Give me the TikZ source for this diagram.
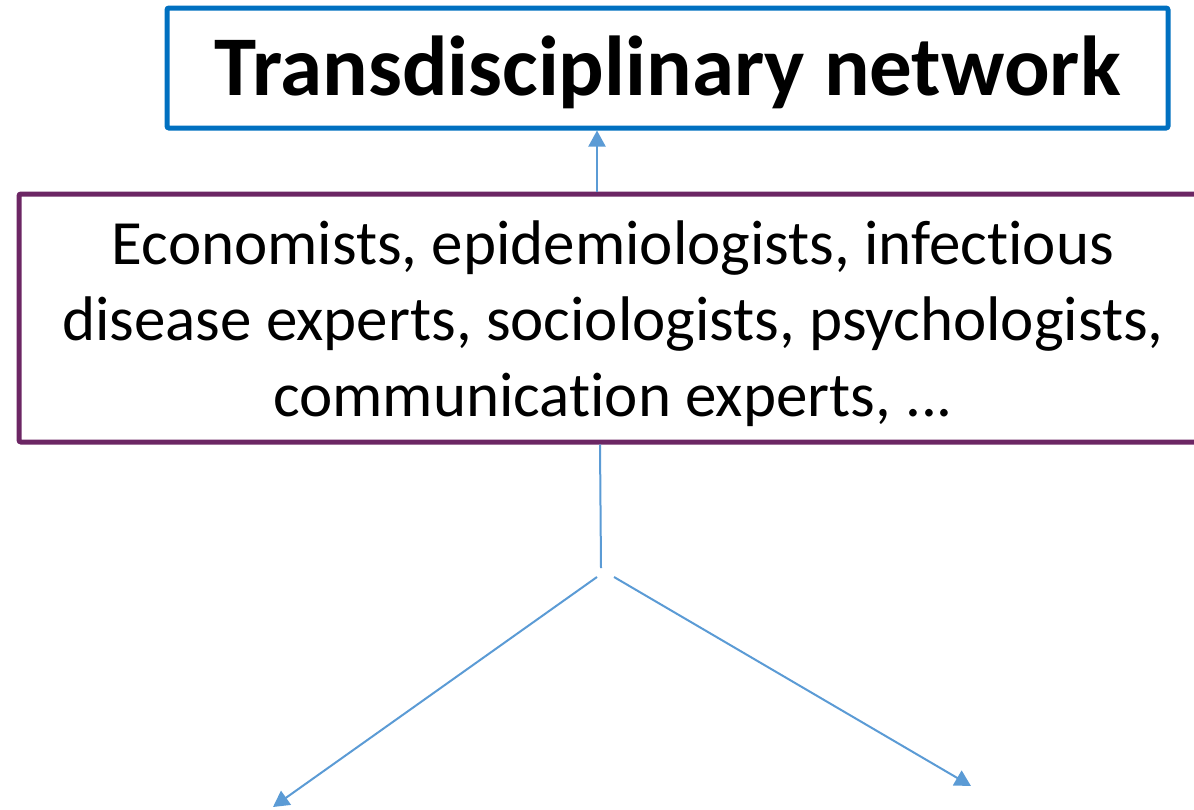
\documentclass[tikz,border=0pt]{standalone}
\usepackage{fontspec}
\setmainfont{Carlito}[Ligatures=NoCommon]
\usetikzlibrary{arrows.meta}
\definecolor{boxblue}{RGB}{0,112,192}
\definecolor{boxpurple}{RGB}{108,38,100}
\definecolor{linkblue}{RGB}{91,155,213}
\tikzset{
  titlebox/.style={draw=boxblue, line width=5pt, rounded corners=2pt, inner sep=0pt,
    minimum width=1001pt, minimum height=120pt, text height=70pt, text depth=16pt,
    font=\fontsize{85}{100}\selectfont\bfseries},
  groupbox/.style={draw=boxpurple, line width=5pt, rounded corners=2pt, inner sep=0pt,
    minimum width=1188pt, minimum height=248pt, align=center,
    font=\fontsize{63}{76}\selectfont},
  link/.style={draw=linkblue, line width=2pt},
  linkarrow/.style={link, -{Triangle[length=16pt,width=17pt]}}
}
\begin{document}
\begin{tikzpicture}[x=1pt,y=-1pt]
\useasboundingbox (0,0) rectangle (1194,809);
\clip (0,0) rectangle (1194,809);
\node[titlebox] (title) at (667.5,68) {Transdisciplinary network};
\node[groupbox] (group) at (613,318) {\rule{0pt}{56pt}Economists, epidemiologists, infectious\\disease experts, sociologists, psychologists,\\communication experts, ...};
\coordinate (stem) at (601,568);
\coordinate (lstart) at (597,577);
\coordinate (rstart) at (614,577);
\coordinate (lend) at (273,807);
\coordinate (rend) at (971,786);
\draw[linkarrow] (group.north -| 597,0) -- (title.south -| 597,0);
\draw[link] (group.south -| 600,0) -- (stem);
\draw[linkarrow] (lstart) -- (lend);
\draw[linkarrow] (rstart) -- (rend);
\end{tikzpicture}
\end{document}
